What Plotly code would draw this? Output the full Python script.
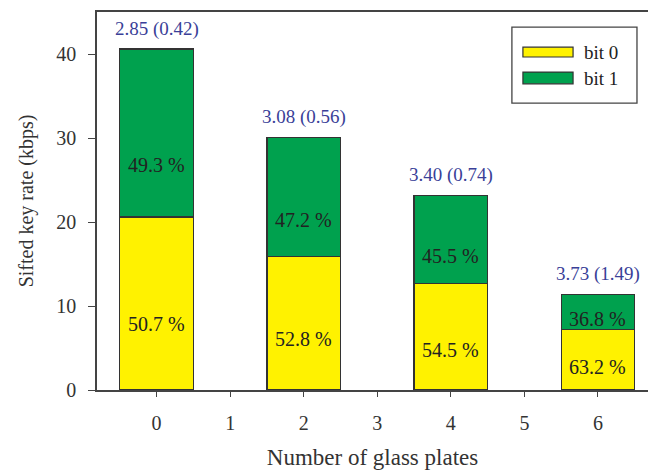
import plotly.graph_objects as go

# Sifted key rate vs. number of glass plates, split by bit value
plates = [0, 2, 4, 6]
total_rate = [40.6, 30.1, 23.2, 11.4]          # kbps
bit0_pct = [50.7, 52.8, 54.5, 63.2]           # share of bit 0 (%)
bit1_pct = [49.3, 47.2, 45.5, 36.8]           # share of bit 1 (%)
top_labels = ["2.85 (0.42)", "3.08 (0.56)", "3.40 (0.74)", "3.73 (1.49)"]
x_ticks = [0, 1, 2, 3, 4, 5, 6]
y_ticks = [0, 10, 20, 30, 40]

bit0_rate = [t * p / 100 for t, p in zip(total_rate, bit0_pct)]
bit1_rate = [t * p / 100 for t, p in zip(total_rate, bit1_pct)]

YELLOW = "#FFF200"
GREEN = "#00A14E"
EDGE = "#333333"
FONT = "Liberation Serif"

fig = go.Figure()
fig.add_trace(go.Bar(x=plates, y=bit0_rate, name="bit 0", width=1.0,
                     marker=dict(color=YELLOW, line=dict(color=EDGE, width=1.2)),
                     showlegend=False))
fig.add_trace(go.Bar(x=plates, y=bit1_rate, name="bit 1", width=1.0,
                     marker=dict(color=GREEN, line=dict(color=EDGE, width=1.2)),
                     showlegend=False))

annotations = []
for x, b0, b1, p0, p1, lab in zip(plates, bit0_rate, bit1_rate, bit0_pct, bit1_pct, top_labels):
    annotations.append(dict(x=x, y=b0 * 0.38, text=f"{p0:.1f} %", showarrow=False,
                            font=dict(family=FONT, size=20, color="#222222")))
    annotations.append(dict(x=x, y=b0 + b1 * 0.31, text=f"{p1:.1f} %", showarrow=False,
                            font=dict(family=FONT, size=20, color="#222222")))
    annotations.append(dict(x=x, y=b0 + b1, text=lab, showarrow=False, yanchor="bottom",
                            yshift=7, font=dict(family=FONT, size=19, color="#3A3F98")))

# hand-built legend with wide swatches
legend_font = dict(family=FONT, size=19, color="#222222")
annotations.append(dict(xref="paper", yref="paper", x=0.880, y=0.894, text="bit 0",
                        showarrow=False, xanchor="left", yanchor="middle", font=legend_font))
annotations.append(dict(xref="paper", yref="paper", x=0.880, y=0.825, text="bit 1",
                        showarrow=False, xanchor="left", yanchor="middle", font=legend_font))
shapes = [
    dict(type="rect", xref="paper", yref="paper", x0=0.753, x1=0.980, y0=0.759, y1=0.960,
         line=dict(color="#444444", width=1.3), fillcolor="white"),
    dict(type="rect", xref="paper", yref="paper", x0=0.773, x1=0.864, y0=0.881, y1=0.907,
         line=dict(color=EDGE, width=1.2), fillcolor=YELLOW),
    dict(type="rect", xref="paper", yref="paper", x0=0.773, x1=0.864, y0=0.810, y1=0.841,
         line=dict(color=EDGE, width=1.2), fillcolor=GREEN),
]

fig.update_layout(
    width=648, height=470,
    margin=dict(l=97, r=0, t=12, b=80),
    barmode="stack",
    plot_bgcolor="white", paper_bgcolor="white",
    font=dict(family=FONT, color="#333333"),
    annotations=annotations, shapes=shapes,
    xaxis=dict(range=[-0.81, 6.68], tickvals=x_ticks, showgrid=False, zeroline=False,
               showline=True, linecolor="#444444", linewidth=1.5, mirror=True,
               ticks="outside", ticklen=5, tickcolor="#444444", tickwidth=1.3,
               ticklabelstandoff=9, tickfont=dict(family=FONT, size=20, color="#333333"),
               title=dict(text="Number of glass plates", standoff=16,
                          font=dict(family=FONT, size=23, color="#333333"))),
    yaxis=dict(range=[0, 45], tickvals=y_ticks, showgrid=False, zeroline=False,
               showline=True, linecolor="#444444", linewidth=1.5,
               ticks="outside", ticklen=7, tickcolor="#444444", tickwidth=1.3,
               ticklabelstandoff=8, tickfont=dict(family=FONT, size=20, color="#333333"),
               title=dict(text="Sifted key rate (kbps)", standoff=17,
                          font=dict(family=FONT, size=20, color="#333333"))),
)

fig.write_html("out.html")
